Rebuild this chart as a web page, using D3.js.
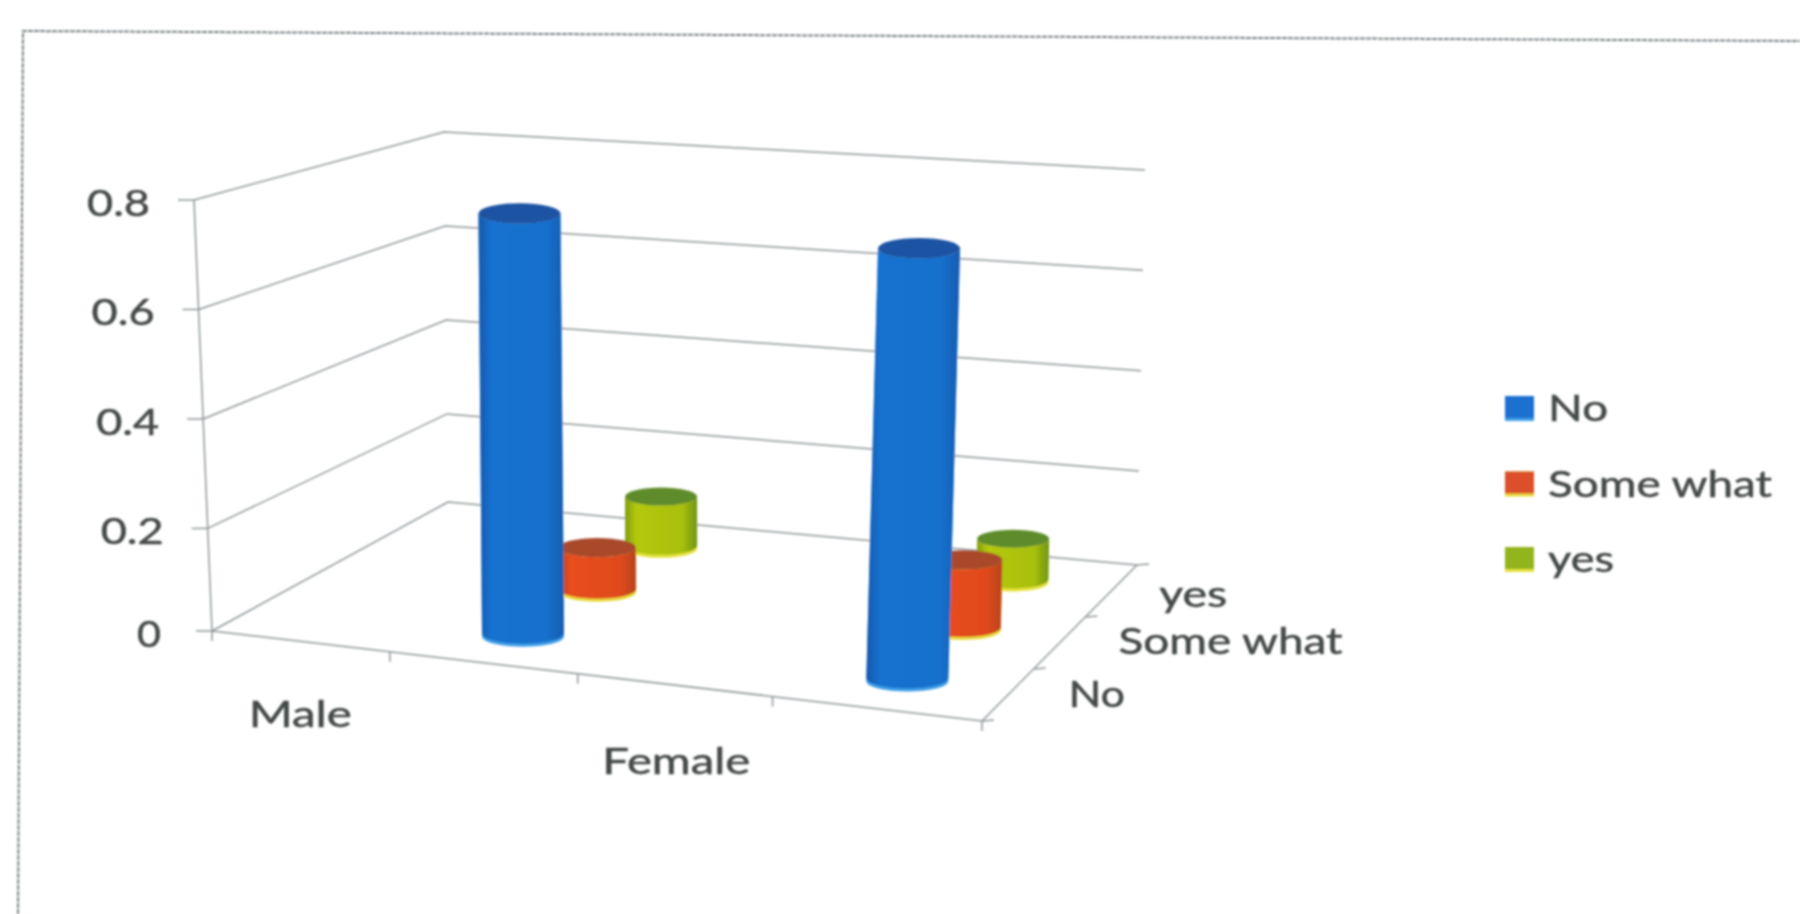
<!DOCTYPE html>
<html><head><meta charset="utf-8">
<script src="https://cdn.jsdelivr.net/npm/d3@7"></script>
<style>html,body{margin:0;background:#fff}svg{display:block}text{font-family:Lato,sans-serif;fill:#454a48;stroke:#454a48;stroke-width:.5}</style>
</head><body><svg id="c" width="1800" height="914"></svg>
<script>
const categories = ["Male", "", "Female", ""];
const seriesNames = ["No", "Some what", "yes"];
const valueTicks = [0, 0.2, 0.4, 0.6, 0.8];
const noValues = [null, 0.776, null, 0.765];
const someWhatValues = [null, 0.085, null, 0.133];
const yesValues = [null, 0.106, null, 0.085];
const seriesValues = [noValues, someWhatValues, yesValues];
const sideColors = [["#1a58ad", "#1472d0", "#1470cc", "#1a5cb0"], ["#b9401c", "#e84e1c", "#e04a1c", "#b8431e"], ["#7f9c12", "#b4c808", "#a8bf08", "#6f9418"]];
const topColors = ["#1d53a3", "#a9492c", "#5f8c2c"];
const rimColors = ["#3f9fe8", "#e6dc3c", "#e6e23c"];
const legendColors = ["#1b6fd0", "#dc4f2a", "#92b41c"];

const svg = d3.select("#c");
const defs = svg.append("defs");
defs.append("filter").attr("id", "soft").attr("x", "-5%").attr("y", "-5%").attr("width", "110%").attr("height", "110%")
  .append("feGaussianBlur").attr("stdDeviation", 1);
sideColors.forEach((cs, i) => {
  const g = defs.append("linearGradient").attr("id", "side" + i);
  cs.forEach((c, k) => g.append("stop").attr("offset", [0, 0.15, 0.8, 1][k]).attr("stop-color", c));
});
const root = svg.append("g").attr("filter", "url(#soft)");

// frame of the scanned page
root.append("path").attr("d", d3.line()([[18, 914], [23, 31], [1800, 41]]))
  .attr("fill", "none").attr("stroke", "#7d8487").attr("stroke-width", 2).attr("stroke-dasharray", "5 1");

// oblique box projection built on D3 scales
const catScale = d3.scaleBand().domain(d3.range(categories.length)).range([0, 1]);
const catEdge = d3.scaleLinear().domain([0, 1, 2, 3, 4]).range([0, 0.231, 0.475, 0.728, 1]);
const depthScale = d3.scaleBand().domain(d3.range(seriesNames.length)).range([0, 1]);
const valueFrac = d3.scaleLinear().domain([0, 0.2, 0.8]).range([0, 0.238, 1]);
const mix = (a, b, t) => a + (b - a) * t;
const bil = (fl, fr, bl, br, u, v) => mix(mix(fl, fr, u), mix(bl, br, u), v);
function project(u, v, val) {
  const f = valueFrac(val);
  return [
    bil(212, 982, 448, 1137, u, v) + f * bil(-18, 18, -4, 8, u, v),
    bil(631, 721, 502, 565, u, v) - f * bil(431, 466, 370, 395, u, v)
  ];
}
const line = d3.line();

// grid on both walls
const grid = root.append("g").attr("fill", "none").attr("stroke", "#8f9698").attr("stroke-width", 1.5);
valueTicks.forEach(t => {
  grid.append("path").attr("d", line([project(0, 0, t), project(0, 1, t), project(1, 1, t)]));
  const p = project(0, 0, t);
  grid.append("path").attr("d", line([[p[0] - 16, p[1]], p]));
  root.append("text").attr("x", p[0] - (t === 0 ? 51 : 44)).attr("y", p[1] + 16).attr("text-anchor", "end")
    .attr("font-size", 36).attr("textLength", t === 0 ? 24 : 63).attr("lengthAdjust", "spacingAndGlyphs")
    .text(d3.format(".1~f")(t));
});
// walls and floor edges
grid.append("path").attr("d", line([project(0, 0, 0), project(0, 0, 0.8)]));
grid.append("path").attr("d", line([project(0, 0, 0), project(1, 0, 0), project(1, 1, 0)]));
// category ticks
d3.range(categories.length + 1).forEach(i => {
  const p = project(catEdge(i), 0, 0);
  grid.append("path").attr("d", line([p, [p[0], p[1] + 10]]));
});
// depth ticks
d3.range(seriesNames.length + 1).forEach(i => {
  const p = project(1, i / seriesNames.length, 0);
  grid.append("path").attr("d", line([p, [p[0] + 12, p[1] - 1]]));
});

// category labels
categories.forEach((c, i) => {
  if (!c) return;
  const p = project(catScale(i) + catScale.bandwidth() / 2, 0, 0);
  root.append("text").attr("x", p[0] + (i === 0 ? -8 : -17)).attr("y", p[1] + (i === 0 ? 85 : 87))
    .attr("text-anchor", "middle").attr("font-size", 36).attr("textLength", i === 0 ? 103 : 148)
    .attr("lengthAdjust", "spacingAndGlyphs").text(c);
});
// depth labels
seriesNames.forEach((s, i) => {
  const p = project(1, depthScale(i) + depthScale.bandwidth() / 2, 0);
  const widths = [56, 224, 68];
  root.append("text").attr("x", p[0] + [61, 59, 48][i]).attr("y", p[1] + [12, 11, 16][i])
    .attr("font-size", 36).attr("textLength", widths[i]).attr("lengthAdjust", "spacingAndGlyphs").text(s);
});

// cylinders: back to front
const rx = d3.scaleLinear().domain([1 / 6, 5 / 6]).range([41, 36]);
const bars = [];
categories.forEach((c, i) => {
  [2, 1, 0].forEach(s => { if (seriesValues[s][i] != null) bars.push({ i, s, val: seriesValues[s][i] }); });
});
const gBars = root.append("g");
bars.forEach(b => {
  const u = catScale(b.i) + catScale.bandwidth() / 2;
  const v = depthScale(b.s) + depthScale.bandwidth() / 2;
  const p0 = project(u, v, 0), p1 = project(u, v, b.val);
  const dx = b.s === 2 ? -11 : (b.s === 0 && b.i === 1 ? -12 : -6);
  const dy = b.s === 2 ? -3 : (b.s === 0 && b.i === 1 ? -8 : -6);
  const r = rx(v), ry = r * 0.25;
  const x0 = p0[0] + dx, y0 = p0[1] + dy, x1 = p1[0] + dx, y1 = p1[1] + dy;
  const body = (yo) => `M${x0 - r},${y0 + yo}A${r},${ry} 0 0 0 ${x0 + r},${y0 + yo}L${x1 + r},${y1}A${r},${ry} 0 0 1 ${x1 - r},${y1}Z`;
  gBars.append("path").attr("d", body(3)).attr("fill", rimColors[b.s]);
  gBars.append("path").attr("d", body(0)).attr("fill", `url(#side${b.s})`);
  gBars.append("ellipse").attr("cx", x1).attr("cy", y1).attr("rx", r).attr("ry", ry).attr("fill", topColors[b.s]);
});

// legend
const legendY = d3.scalePoint().domain(seriesNames).range([408, 559]);
const legendWidths = [60, 224, 66];
seriesNames.forEach((s, i) => {
  const y = legendY(s);
  root.append("rect").attr("x", 1505).attr("y", y - 12).attr("width", 29).attr("height", 25).attr("fill", rimColors[i]);
  root.append("rect").attr("x", 1505).attr("y", y - 12).attr("width", 29).attr("height", 22).attr("fill", legendColors[i]);
  root.append("text").attr("x", 1548).attr("y", y + 13).attr("font-size", 36)
    .attr("textLength", legendWidths[i]).attr("lengthAdjust", "spacingAndGlyphs").text(s);
});
</script></body></html>
